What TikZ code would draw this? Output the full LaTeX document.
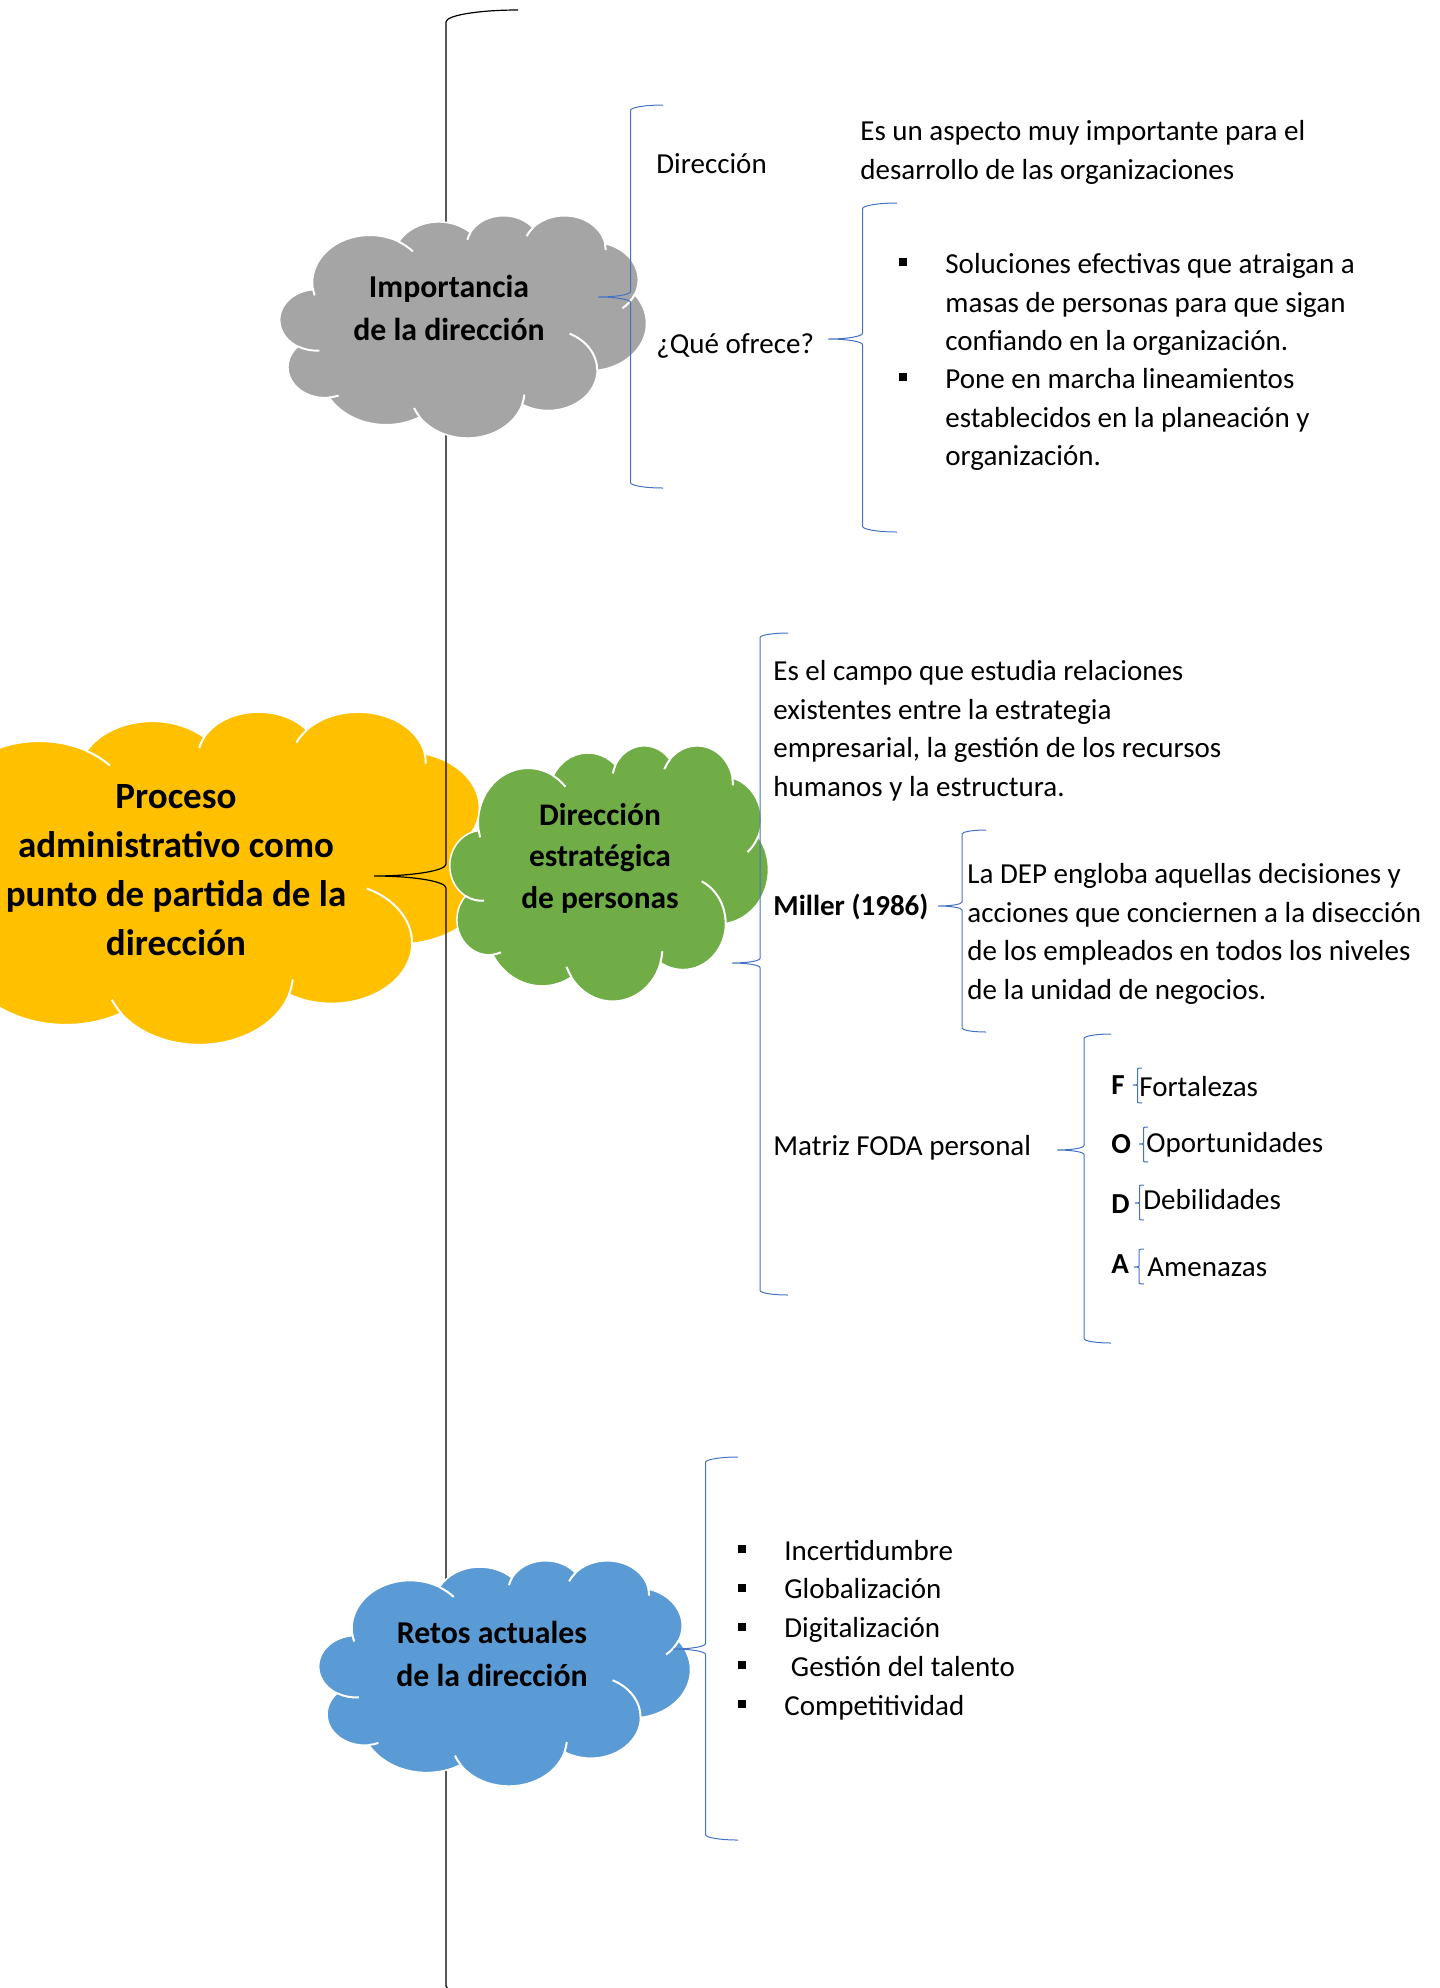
\documentclass[tikz,border=0pt]{standalone}
\usepackage{fontspec}
\setmainfont{Carlito}

\definecolor{gris}{HTML}{A5A5A5}
\definecolor{amarillo}{HTML}{FFC000}
\definecolor{verde}{HTML}{70AD47}
\definecolor{celeste}{HTML}{5B9BD5}
\definecolor{azul}{HTML}{4472C4}

\tikzset{
  txt/.style={font=\fontsize{14.5}{19.4}\selectfont,inner sep=0pt,align=left},
  negrita/.style={txt,font=\fontsize{14.5}{19.4}\selectfont\bfseries},
  nubetxt/.style={inner sep=0pt,align=center,anchor=north,font=\fontsize{15.9}{21.5}\selectfont\bfseries},
  bala/.style={anchor=base,inner sep=0pt},
  llave/.style={draw=azul,line width=0.5pt}
}

\newcommand\cuadro{\rule[3.5pt]{4pt}{4pt}}

% puffs of the cloud: x radius / y radius / start / sweep
\newcommand\cloudpuffs{15.632/21.273/-190.487/123.781,12.345/16.822/-144.102/89.945,10.104/13.762/-145.808/99.723,11.243/15.266/-130.986/117.242,12.345/16.836/-78.709/109.027,15.683/21.343/-46.267/130.269,13.391/18.211/0.625/114.033,15.630/21.331/22.452/115.173,17.870/24.405/66.243/75.711,10.093/13.699/-274.942/146.736,10.058/13.762/-246.829/152.519}
\newcommand\cloudfolds{0/15.632/21.273/-190.487/-201,1/15.632/21.273/-66.706/-50,2/10.104/13.762/-145.808/-163.49,3/11.243/15.266/-130.986/-149.18,4/11.243/15.266/-13.744/1.12,5/12.345/16.836/30.318/58.07,6/13.391/18.211/0.625/-70.29,7/15.630/21.331/22.452/6.45,8/15.630/21.331/137.625/151.70,9/10.093/13.699/85.058/73.61,10/10.058/13.762/113.171/86.74}

\newcommand\nube[6]{%
  \pgfmathsetmacro\cw{#5*0.005}\pgfmathsetmacro\ch{#6*0.005}%
  \begin{scope}[shift={(#3,#4)},x=\cw pt,y=-\ch pt]
    \filldraw[fill=#2,draw=white,line width=0.75pt] (9.028,33.264) coordinate (#1-0)
      \foreach \a/\b/\s/\w [count=\k] in \cloudpuffs {
        arc[x radius=\a,y radius=\b,start angle={atan2(\a*sin(\s),\b*cos(\s))},
            delta angle={mod(atan2(\a*sin(\s+\w),\b*cos(\s+\w))-atan2(\a*sin(\s),\b*cos(\s))+720,360)}]
        coordinate (#1-\k)} -- cycle;
    \foreach \j/\a/\b/\p/\q in \cloudfolds
      \draw[white,line width=1pt] (#1-\j) arc[x radius=\a,y radius=\b,
        start angle={atan2(\a*sin(\p),\b*cos(\p))},
        delta angle={mod(atan2(\a*sin(\q),\b*cos(\q))-atan2(\a*sin(\p),\b*cos(\p))+540,360)-180}];
  \end{scope}}

% curly bracket: style, tip x, right x, top, bottom, tip y
\newcommand\curly[6]{%
  \pgfmathsetmacro\rx{(#3-#2)/2}\pgfmathsetmacro\ry{(#3-#2)/12}%
  \draw[#1] (#3,#4) arc[start angle=-90,delta angle=-90,x radius=\rx,y radius=\ry]
    -- (#2+\rx,#6-\ry) arc[start angle=0,delta angle=90,x radius=\rx,y radius=\ry]
    arc[start angle=-90,delta angle=90,x radius=\rx,y radius=\ry]
    -- (#3-\rx,#5-\ry) arc[start angle=180,delta angle=-90,x radius=\rx,y radius=\ry];}

\begin{document}
\begin{tikzpicture}[x=0.5pt,y=-0.5pt]
\useasboundingbox (0,0) rectangle (1440,1988);

\nube{proceso}{amarillo}{-108}{711}{600}{332}
\curly{black,line width=0.6pt}{374}{518}{10}{1998}{876}
\nube{importancia}{gris}{280}{215}{366}{222}
\nube{retos}{celeste}{319}{1560}{371}{225}
\nube{estrategica}{verde}{450}{745}{318}{255}

\node[nubetxt,font=\fontsize{18.5}{24.5}\selectfont\bfseries] (txtproceso) at (176,774) {\strut Proceso\\administrativo como\\punto de partida de la\\dirección};
\node[nubetxt] (txtimportancia) at (449,267) {\strut Importancia\\de la dirección};
\node[nubetxt,font=\fontsize{15.7}{20.75}\selectfont\bfseries] (txtestrategica) at (600,796) {\strut Dirección\\estratégica\\de personas};
\node[nubetxt] (txtretos) at (492,1613) {\strut Retos actuales\\de la dirección};

\curly{llave}{598}{663}{105}{488}{297}
\curly{llave}{828}{897}{203}{532}{339}
\curly{llave}{732}{788}{633}{1295}{963}
\curly{llave}{938}{986}{830}{1032}{906}
\curly{llave}{1057}{1111}{1034}{1343}{1150}
\curly{llave}{673}{738}{1457}{1840}{1649}
\foreach \l/\r/\t/\p in {1133/1142/1068/1085,1139/1148/1127/1144,1135/1144/1185/1203,1134/1144/1249/1267}
  \curly{llave}{\l}{\r}{\t}{\t+35}{\p};

\node[txt,anchor=base west] (direccion) at (656,173) {Dirección};
\node[txt,anchor=base west] (ofrece) at (656,353) {¿Qué ofrece?};
\node[txt,anchor=north west] (aspecto) at (860,112.8) {\strut Es un aspecto muy importante para el\\desarrollo de las organizaciones};
\node[bala] (balaA) at (903,273) {\cuadro};
\node[txt,anchor=north west] (oferta1) at (945,245.8) {\strut Soluciones efectivas que atraigan a\\masas de personas para que sigan\\confiando en la organización.};
\node[bala] (balaB) at (903,388) {\cuadro};
\node[txt,anchor=north west] (oferta2) at (945,360.8) {\strut Pone en marcha lineamientos\\establecidos en la planeación y\\organización.};

\node[txt,anchor=north west] (campo) at (773,652.8) {\strut Es el campo que estudia relaciones\\existentes entre la estrategia\\empresarial, la gestión de los recursos\\humanos y la estructura.};
\node[negrita,anchor=base west] (miller) at (773,915) {Miller (1986)};
\node[txt,anchor=north west] (dep) at (967,855.8) {\strut La DEP engloba aquellas decisiones y\\acciones que conciernen a la disección\\de los empleados en todos los niveles\\de la unidad de negocios.};
\node[txt,anchor=base west] (foda) at (773,1155) {Matriz FODA personal};
\foreach \l/\ly/\word/\wx/\wy in {F/1094/Fortalezas/1139/1096,O/1153/Oportunidades/1146/1152,D/1213/Debilidades/1143/1209,A/1273/Amenazas/1147/1276}{
  \node[negrita,anchor=base west] (letra\l) at (1111,\ly) {\l};
  \node[txt,anchor=base west] (palabra\l) at (\wx,\wy) {\word};
}

\foreach \reto [count=\n] in {Incertidumbre,Globalización,Digitalización,~Gestión del talento,Competitividad}{
  \node[bala] (balaR\n) at (742,{1560+38.75*(\n-1)}) {\cuadro};
  \node[txt,anchor=base west] (reto\n) at (784,{1560+38.75*(\n-1)}) {\reto};
}
\end{tikzpicture}
\end{document}
